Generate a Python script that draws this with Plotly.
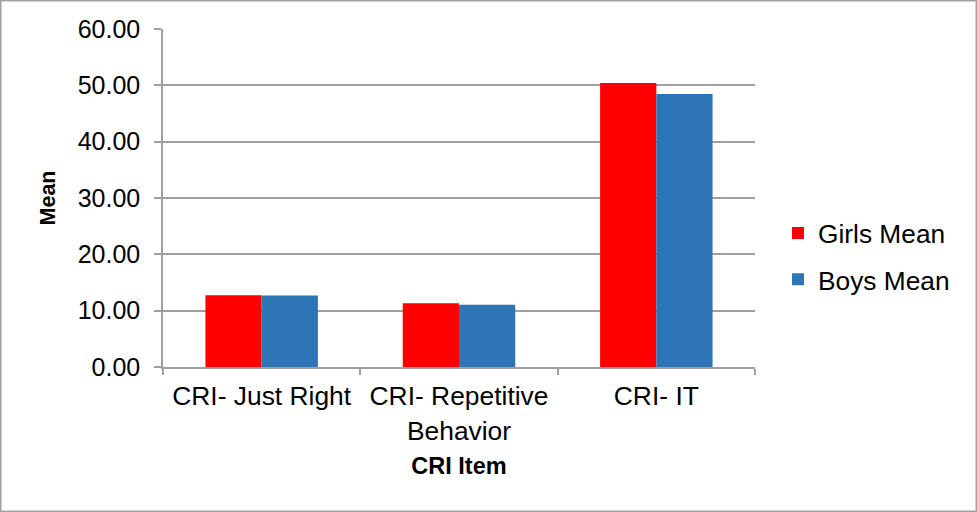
import plotly.graph_objects as go

categories = ["CRI- Just Right", "CRI- Repetitive<br>Behavior", "CRI- IT"]
girls_mean = [12.72, 11.30, 50.43]
boys_mean = [12.70, 11.07, 48.46]
y_ticks = [0, 10, 20, 30, 40, 50, 60]
y_tick_labels = ["0.00", "10.00", "20.00", "30.00", "40.00", "50.00", "60.00"]

FONT = "Liberation Sans"

fig = go.Figure()
fig.add_trace(go.Bar(name="Girls Mean", x=categories, y=girls_mean, legendgroup="g",
                     marker=dict(color="#FF0000", line=dict(width=0))))
fig.add_trace(go.Bar(name="Boys Mean", x=categories, y=boys_mean, legendgroup="b",
                     marker=dict(color="#2E75B6", line=dict(width=0))))

L, R, T, B = 163, 222, 29, 145
W, H = 977, 512
pw, ph = W - L - R, H - T - B

fig.update_layout(
    width=W, height=H,
    margin=dict(l=L, r=R, t=T, b=B, pad=0),
    paper_bgcolor="white", plot_bgcolor="white",
    font=dict(family=FONT, size=25, color="black"),
    barmode="group", bargap=0.43, bargroupgap=0,
    showlegend=True,
    legend=dict(x=(778 - L) / pw, y=(367 - 256.5) / ph, xanchor="left", yanchor="middle",
                font=dict(size=26.3), bgcolor="rgba(0,0,0,0)", tracegroupgap=9,
                itemwidth=30),
    xaxis=dict(
        showline=True, linecolor="#a0a0a0", linewidth=1.5,
        ticks="outside", ticklen=6, tickcolor="#a0a0a0", tickwidth=1.5,
        tickson="boundaries", ticklabelstandoff=5,
        tickfont=dict(size=26.4),
        title=dict(text="<b>CRI Item</b>", font=dict(size=23.5), standoff=13),
    ),
    yaxis=dict(
        range=[0, 60], tickvals=y_ticks, ticktext=y_tick_labels,
        showgrid=True, gridcolor="#a0a0a0", gridwidth=1.5,
        showline=True, linecolor="#a0a0a0", linewidth=1.5,
        ticks="outside", ticklen=7, tickcolor="#a0a0a0", tickwidth=1.5,
        ticklabelstandoff=9,
        tickfont=dict(size=25), zeroline=False,
        title=dict(text="<b>Mean</b>", font=dict(size=21.5), standoff=16),
    ),
    shapes=[dict(type="rect", xref="paper", yref="paper",
                 x0=-(L - 0.75) / pw, x1=(W - 0.75 - L) / pw,
                 y0=-(B - 0.75) / ph, y1=1 + (T - 0.75) / ph,
                 line=dict(color="#a0a0a0", width=1.5), fillcolor="rgba(0,0,0,0)", layer="below")],
)

fig.write_html("out.html", config={"displayModeBar": False},
               post_script="document.body.style.margin='0';document.body.style.overflow='hidden';")
